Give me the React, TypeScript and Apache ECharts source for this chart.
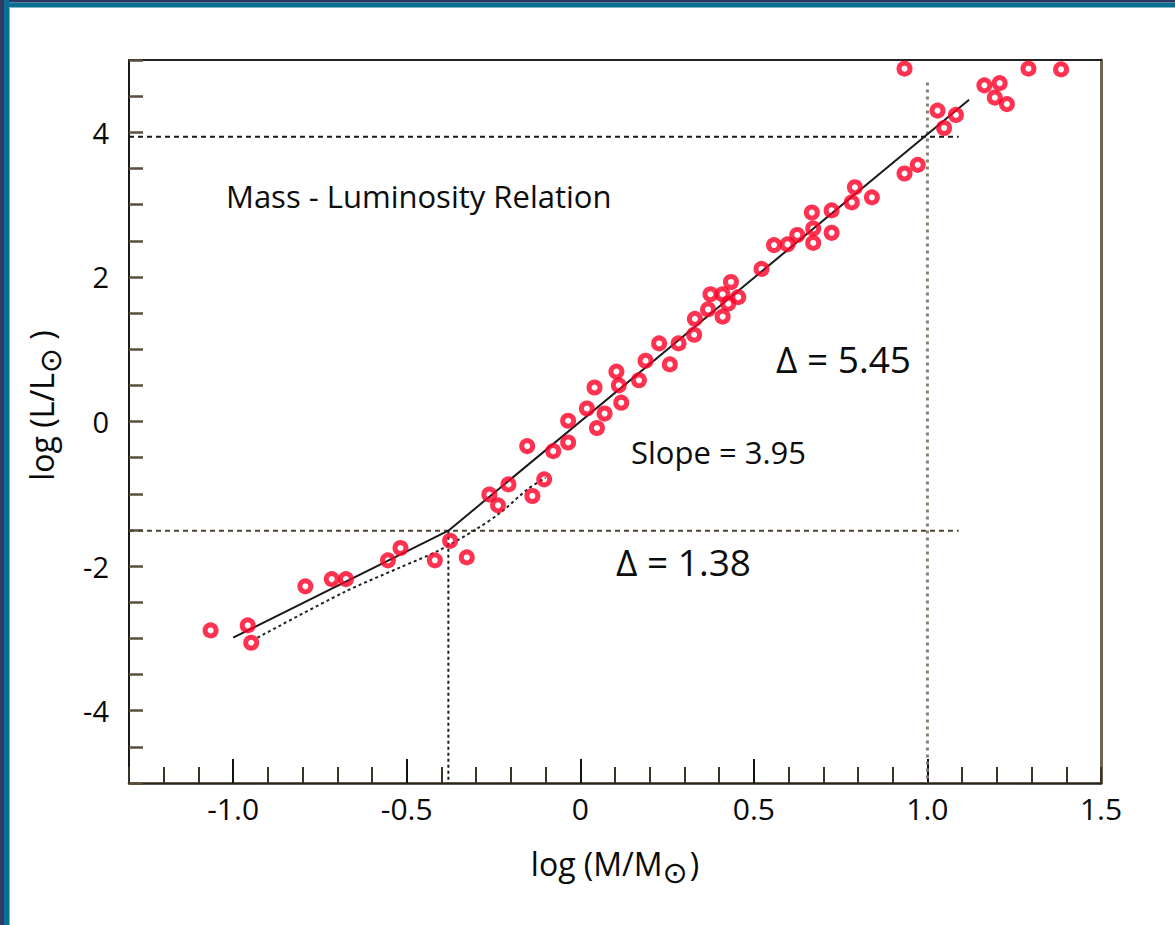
import React, { useEffect, useRef } from "react";
import * as echarts from "echarts";

// ---- Data ----
const starLogM = [
  -1.065, -0.958, -0.948, -0.792, -0.716, -0.675, -0.554, -0.518, -0.419, -0.375,
  -0.327, -0.262, -0.237, -0.207, -0.138, -0.104, -0.153, -0.078, -0.035, -0.035,
  0.019, 0.041, 0.048, 0.07, 0.104, 0.111, 0.118, 0.169, 0.188, 0.227,
  0.258, 0.283, 0.328, 0.33, 0.368, 0.375, 0.41, 0.41, 0.426, 0.434,
  0.455, 0.522, 0.558, 0.597, 0.625, 0.667, 0.671, 0.671, 0.724, 0.724,
  0.782, 0.791, 0.84, 0.934, 0.972, 0.934, 1.029, 1.082, 1.048, 1.164,
  1.208, 1.194, 1.229, 1.291, 1.385,
];
const starLogL = [
  -2.89, -2.82, -3.06, -2.28, -2.18, -2.18, -1.92, -1.75, -1.92, -1.65,
  -1.88, -1.01, -1.16, -0.87, -1.03, -0.8, -0.34, -0.41, -0.29, 0.01,
  0.18, 0.47, -0.09, 0.11, 0.69, 0.5, 0.26, 0.57, 0.84, 1.08,
  0.79, 1.08, 1.2, 1.42, 1.55, 1.76, 1.76, 1.45, 1.63, 1.93,
  1.72, 2.11, 2.44, 2.45, 2.58, 2.89, 2.67, 2.47, 2.92, 2.61,
  3.03, 3.24, 3.1, 3.43, 3.55, 4.88, 4.3, 4.24, 4.06, 4.65,
  4.68, 4.48, 4.39, 4.88, 4.87,
];

// broken-line fit (solid)
const fitLogM = [-1.0, -0.38, 1.12];
const fitLogL = [-2.99, -1.51, 4.45];

// lower dotted curve
const curveLogM = [-0.93, -0.68, -0.52, -0.41, -0.3, -0.23, -0.15, -0.1];
const curveLogL = [-2.99, -2.36, -2.02, -1.79, -1.49, -1.26, -0.93, -0.78];

// guide lines
const breakLogM = -0.38;
const breakLogL = -1.51;
const topLogM = 1.0;
const topLogL = 3.94;
const guideEndLogM = 1.09;
const topGuideStartLogL = 4.69;

// axes
const xMin = -1.3;
const xMax = 1.5;
const yMin = -5;
const yMax = 5;
const xTickValues = [-1.0, -0.5, 0, 0.5, 1.0, 1.5];
const xTickLabels = ["-1.0", "-0.5", "0", "0.5", "1.0", "1.5"];
const xMajorTicks = [-1.0, -0.5, 0, 0.5, 1.0];
const yTickValues = [-4, -2, 0, 2, 4];
const yTickLabels = ["-4", "-2", "0", "2", "4"];

const FONT = "'Open Sans', 'Noto Sans', sans-serif";
const SYM = "'DejaVu Sans', sans-serif";

function pick(values: number[], labels: string[], v: number) {
  const i = values.findIndex((t) => Math.abs(t - v) < 1e-6);
  return i >= 0 ? labels[i] : "";
}

const pairs = (xs: number[], ys: number[]) => xs.map((x, i) => [x, ys[i]]);

export default function App() {
  const ref = useRef<HTMLDivElement>(null);
  useEffect(() => {
    const chart = echarts.init(ref.current!, null, { renderer: "svg" });
    const option: any = {
      animation: false,
      backgroundColor: "#ffffff",
      grid: { left: 129, right: 74, top: 60, bottom: 142 },
      xAxis: [
        {
          type: "value",
          min: xMin,
          max: xMax,
          interval: 0.1,
          position: "bottom",
          axisLine: { show: true, onZero: false, lineStyle: { color: "#2a2418", width: 2.5 } },
          axisTick: { show: true, inside: true, length: 16, lineStyle: { color: "#3a3328", width: 2 } },
          axisLabel: {
            formatter: (v: number) => pick(xTickValues, xTickLabels, v),
            fontSize: 30,
            fontFamily: FONT,
            color: "#0a0a0a",
            margin: 10,
            showMinLabel: true,
            showMaxLabel: true,
          },
          splitLine: { show: false },
          name: "{a|log (M/M}{s|⊙}{a|)}",
          nameLocation: "middle",
          nameGap: 56,
          nameTextStyle: {
            rich: {
              a: { fontSize: 32, fontFamily: FONT, color: "#0a0a0a" },
              s: { fontSize: 30, fontFamily: SYM, color: "#0a0a0a", padding: [18, 2, 0, 0] },
            },
          },
        },
        {
          type: "value",
          min: xMin,
          max: xMax,
          interval: 0.1,
          position: "bottom",
          axisLine: { show: false, onZero: false },
          axisTick: {
            show: true,
            inside: true,
            length: 24,
            customValues: xMajorTicks,
            lineStyle: { color: "#111", width: 2 },
          },
          axisLabel: { show: false },
          splitLine: { show: false },
        },
        {
          type: "value",
          min: xMin,
          max: xMax,
          position: "top",
          axisLine: { show: true, onZero: false, lineStyle: { color: "#222", width: 2 } },
          axisTick: { show: false },
          axisLabel: { show: false },
          splitLine: { show: false },
        },
      ],
      yAxis: [
        {
          type: "value",
          min: yMin,
          max: yMax,
          interval: 0.5,
          position: "left",
          axisLine: { show: true, onZero: false, lineStyle: { color: "#1a1a1a", width: 2 } },
          axisTick: { show: true, inside: true, length: 14, lineStyle: { color: "#5a4e3c", width: 2.5 } },
          axisLabel: {
            formatter: (v: number) => pick(yTickValues, yTickLabels, v),
            fontSize: 29,
            fontFamily: FONT,
            color: "#0a0a0a",
            margin: 20,
          },
          splitLine: { show: false },
          name: "{a|log (L/L}{s|⊙}{a| )}",
          nameLocation: "middle",
          nameGap: 64,
          nameTextStyle: {
            padding: [0, 0, 0, 32],
            rich: {
              a: { fontSize: 32, fontFamily: FONT, color: "#0a0a0a" },
              s: { fontSize: 30, fontFamily: SYM, color: "#0a0a0a", padding: [18, 0, 0, 0] },
            },
          },
        },
        {
          type: "value",
          min: yMin,
          max: yMax,
          position: "right",
          axisLine: { show: true, onZero: false, lineStyle: { color: "#6e6452", width: 3 } },
          axisTick: { show: false },
          axisLabel: { show: false },
          splitLine: { show: false },
        },
      ],
      series: [
        {
          type: "line",
          name: "upper guide",
          data: [
            [xMin, topLogL],
            [guideEndLogM, topLogL],
          ],
          symbol: "none",
          lineStyle: { color: "#1a1a1a", width: 2, type: [5, 4] },
          z: 2,
        },
        {
          type: "line",
          name: "lower guide",
          data: [
            [xMin, breakLogL],
            [guideEndLogM, breakLogL],
          ],
          symbol: "none",
          lineStyle: { color: "#4f4535", width: 2, type: [5, 4] },
          z: 2,
        },
        {
          type: "line",
          name: "break vertical",
          data: [
            [breakLogM, breakLogL],
            [breakLogM, yMin],
          ],
          symbol: "none",
          lineStyle: { color: "#1a1a1a", width: 2, type: [3, 3] },
          z: 2,
        },
        {
          type: "line",
          name: "top vertical",
          data: [
            [topLogM, topGuideStartLogL],
            [topLogM, yMin],
          ],
          symbol: "none",
          lineStyle: { color: "#8a7f6c", width: 3, type: [3, 4] },
          z: 2,
        },
        {
          type: "line",
          name: "fit",
          data: pairs(fitLogM, fitLogL),
          symbol: "none",
          lineStyle: { color: "#1a1a1a", width: 2 },
          z: 3,
        },
        {
          type: "line",
          name: "curve",
          data: pairs(curveLogM, curveLogL),
          symbol: "none",
          smooth: 0.3,
          lineStyle: { color: "#222", width: 2, type: [3, 3] },
          z: 3,
        },
        {
          type: "scatter",
          name: "stars",
          data: pairs(starLogM, starLogL),
          symbol: "circle",
          symbolSize: 11,
          itemStyle: { color: "rgba(0,0,0,0)", borderColor: "#ff0026", borderWidth: 5 },
          z: 10,
        },
      ],
      graphic: [
        { type: "rect", shape: { x: 0, y: 0, width: 1175, height: 2.5 }, style: { fill: "#2d3660" }, z: 100 },
        { type: "rect", shape: { x: 0, y: 2.5, width: 1175, height: 5 }, style: { fill: "#0b6f94" }, z: 100 },
        { type: "rect", shape: { x: 0, y: 0, width: 4, height: 925 }, style: { fill: "#2f3962" }, z: 100 },
        { type: "rect", shape: { x: 4, y: 0, width: 5, height: 925 }, style: { fill: "#0b6f94" }, z: 100 },
        { type: "rect", shape: { x: 9, y: 7, width: 1, height: 918 }, style: { fill: "#6fbcd8" }, z: 100 },
        {
          type: "text",
          left: 226,
          top: 180,
          style: { text: "Mass - Luminosity Relation", fontSize: 31, fontFamily: FONT, fill: "#0d0d0d" },
        },
        {
          type: "text",
          left: 776,
          top: 340,
          style: { text: "Δ = 5.45", fontSize: 37, fontFamily: FONT, fill: "#0d0d0d" },
        },
        {
          type: "text",
          left: 631,
          top: 436,
          style: { text: "Slope = 3.95", fontSize: 31, fontFamily: FONT, fill: "#0d0d0d" },
        },
        {
          type: "text",
          left: 616,
          top: 543,
          style: { text: "Δ = 1.38", fontSize: 37, fontFamily: FONT, fill: "#0d0d0d" },
        },
      ],
    };
    chart.setOption(option);
    return () => chart.dispose();
  }, []);
  return (
    <div
      ref={ref}
      style={{ position: "fixed", left: 0, top: 0, width: 1175, height: 925, background: "#fff" }}
    />
  );
}
